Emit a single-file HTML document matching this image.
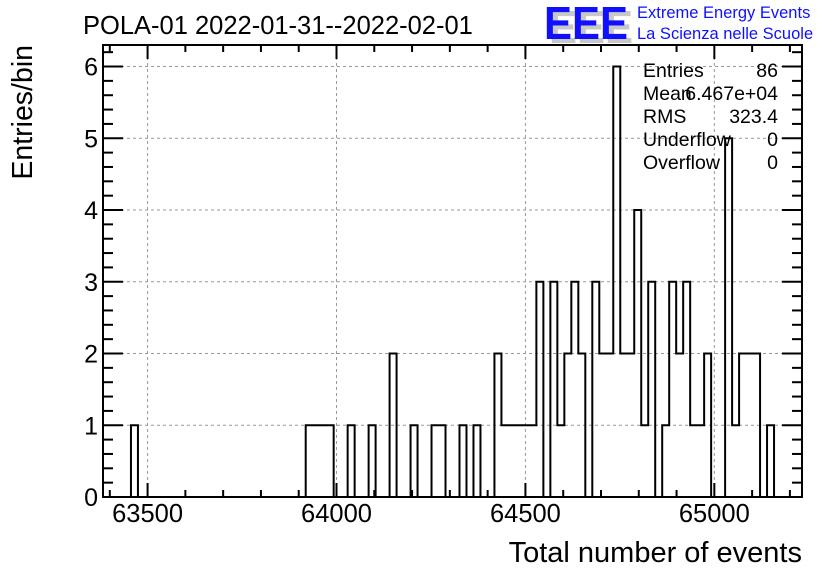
<!DOCTYPE html>
<html><head><meta charset="utf-8"><style>
body{margin:0;background:#fff;}
svg{display:block;font-family:"Liberation Sans",Arial,sans-serif;}
</style></head><body>
<svg id="c" width="836" height="572" viewBox="0 0 836 572">
<text x="83" y="34" font-size="25.5">POLA-01 2022-01-31--2022-02-01</text>
<g>
<text x="549" y="43" font-size="46" font-weight="bold" fill="#c8c8c8" textLength="84" lengthAdjust="spacingAndGlyphs">EEE</text>
<text x="544" y="39" font-size="46" font-weight="bold" fill="#1010ff" textLength="84" lengthAdjust="spacingAndGlyphs">EEE</text>
<text x="637" y="18" font-size="16.5" fill="#1010ff">Extreme Energy Events</text>
<text x="637" y="39" font-size="16.5" fill="#1010ff">La Scienza nelle Scuole</text>
</g>
<g id="grid"></g>
<g id="hist"></g>
<g id="axes"></g>
<g font-size="19.5">
<text x="643" y="77">Entries</text><text x="778" y="77" text-anchor="end">86</text>
<text x="643" y="100">Mean</text><text x="778" y="100" text-anchor="end">6.467e+04</text>
<text x="643" y="123">RMS</text><text x="778" y="123" text-anchor="end">323.4</text>
<text x="643" y="146">Underflow</text><text x="778" y="146" text-anchor="end">0</text>
<text x="643" y="169">Overflow</text><text x="778" y="169" text-anchor="end">0</text>
</g>
<text x="802" y="562" font-size="29" text-anchor="end">Total number of events</text>
<text transform="translate(32,45) rotate(-90)" font-size="28.5" text-anchor="end">Entries/bin</text>
</svg>
<script>
const counts=[0,0,0,0,1,0,0,0,0,0, 0,0,0,0,0,0,0,0,0,0, 0,0,0,0,0,0,0,0,0,1, 1,1,1,0,0,1,0,0,1,0, 0,2,0,0,1,0,0,1,1,0, 0,1,0,1,0,0,2,1,1,1, 1,1,3,0,3,1,2,3,2,0, 3,2,2,6,2,2,4,1,3,0, 1,3,2,3,1,1,2,0,0,5, 1,2,2,2,0,1,0,0,0,0];
const xMin=63382, xMax=65232;
const yMin=0, yMax=6.3;
const xTickLabels=[63500,64000,64500,65000];
const yTickLabels=[0,1,2,3,4,5,6];
const L=103,R=802,T=45,B=497;
const X=v=>L+(v-xMin)/(xMax-xMin)*(R-L);
const Y=v=>B-(v-yMin)/(yMax-yMin)*(B-T);
const NS='http://www.w3.org/2000/svg';
function mk(tag,attrs,parent){const e=document.createElementNS(NS,tag);for(const k in attrs)e.setAttribute(k,attrs[k]);parent.appendChild(e);return e;}
const grid=document.getElementById('grid'),hist=document.getElementById('hist'),axes=document.getElementById('axes');
xTickLabels.forEach(v=>{const l=mk('line',{x1:X(v),x2:X(v),y1:T,y2:B,stroke:'#999','stroke-dasharray':'3,3','stroke-width':1},grid);

});
yTickLabels.forEach(v=>{if(v===0)return;const l=mk('line',{x1:L,x2:R,y1:Y(v),y2:Y(v),stroke:'#999','stroke-dasharray':'3,3','stroke-width':1},grid);

});
const bw=(xMax-xMin)/counts.length;
let d='M'+X(xMin)+','+Y(0);
counts.forEach((c,i)=>{const x0=X(xMin+i*bw),x1=X(xMin+(i+1)*bw);d+=' L'+x0+','+Y(c)+' L'+x1+','+Y(c);});
d+=' L'+X(xMax)+','+Y(0);
const p=mk('path',{d:d,fill:'none',stroke:'#000','stroke-width':2},hist);


const f=mk('rect',{x:L,y:T,width:R-L,height:B-T,fill:'none',stroke:'#000','stroke-width':2},axes);


for(let v=Math.ceil(xMin/100)*100;v<=xMax;v+=100){const maj=v%500===0,len=maj?14:7;
mk('line',{x1:X(v),x2:X(v),y1:B,y2:B-len,stroke:'#000','stroke-width':2},axes);
mk('line',{x1:X(v),x2:X(v),y1:T,y2:T+len,stroke:'#000','stroke-width':2},axes);}
xTickLabels.forEach(v=>{const t=mk('text',{x:X(v),y:522,'font-size':25.5,'text-anchor':'middle'},axes);t.textContent=v;

});
for(let v=0;v<=yMax+1e-9;v+=0.2){const maj=Math.abs(v-Math.round(v))<1e-6,len=maj?20:10;
mk('line',{x1:L,x2:L+len,y1:Y(v),y2:Y(v),stroke:'#000','stroke-width':2},axes);
mk('line',{x1:R,x2:R-len,y1:Y(v),y2:Y(v),stroke:'#000','stroke-width':2},axes);}
yTickLabels.forEach(v=>{const t=mk('text',{x:98,y:Y(v)+9,'font-size':25,'text-anchor':'end'},axes);t.textContent=v;

});
</script>
</body></html>
